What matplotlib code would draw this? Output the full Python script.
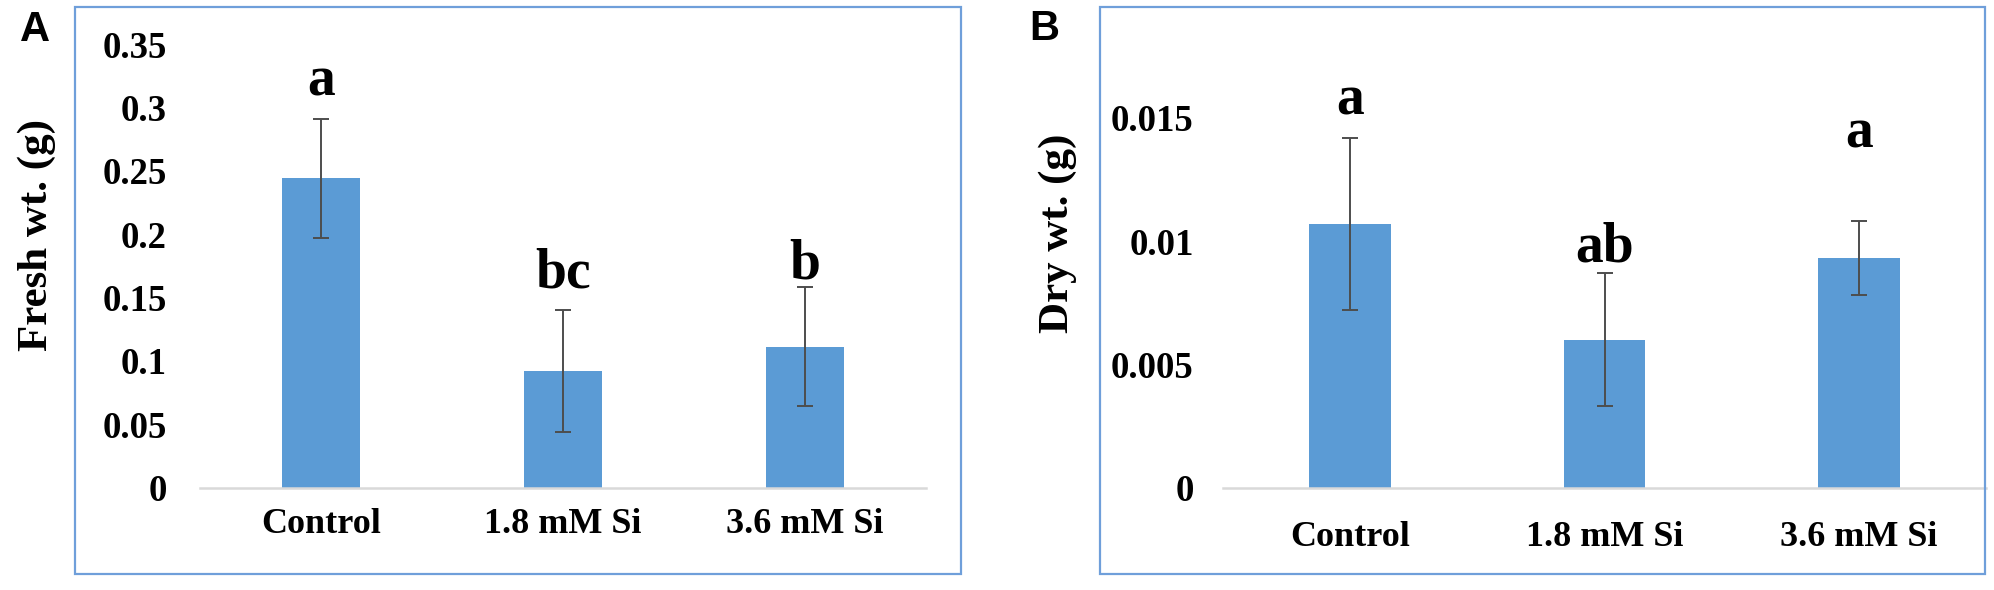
import matplotlib
matplotlib.use("Agg")
import matplotlib.pyplot as plt
from matplotlib.patches import Rectangle
import numpy as np

# data
treatments = ["Control", "1.8 mM Si", "3.6 mM Si"]

fresh_wt = [0.244, 0.092, 0.111]
fresh_err = [0.047, 0.048, 0.047]
fresh_letters = ["a", "bc", "b"]

dry_wt = [0.0107, 0.0060, 0.0093]
dry_err = [0.0035, 0.0027, 0.0015]
dry_letters = ["a", "ab", "a"]

fresh_ticks = [0, 0.05, 0.1, 0.15, 0.2, 0.25, 0.3, 0.35]
fresh_ticklabels = ["0", "0.05", "0.1", "0.15", "0.2", "0.25", "0.3", "0.35"]
dry_ticks = [0, 0.005, 0.01, 0.015]
dry_ticklabels = ["0", "0.005", "0.01", "0.015"]

BAR = "#5B9BD5"
FRAME = "#6F9FDA"
SERIF = ["Liberation Serif", "DejaVu Serif"]

W, H = 1994, 590
fig = plt.figure(figsize=(W / 100, H / 100), dpi=100)


def px_box(x0, x1, ytop, ybot):
    return [x0 / W, 1 - ybot / H, (x1 - x0) / W, (ybot - ytop) / H]


def panel(box, vals, errs, letters, letter_pad, ticks, ticklabels, ymax, ylabel,
          xlabel_pad, ytick_pad):
    ax = fig.add_axes(box)
    x = np.arange(len(treatments))
    ax.bar(x, vals, width=0.32, color=BAR, zorder=2)
    ax.errorbar(x, vals, yerr=errs, fmt="none", ecolor="#4d4d4d",
                elinewidth=1.4, capsize=5.5, capthick=1.4, zorder=3)
    for xi, v, e, lab, pad in zip(x, vals, errs, letters, letter_pad):
        ax.annotate(lab, (xi, v + e), xytext=(0, pad), textcoords="offset points",
                    ha="center", va="baseline", fontsize=40, fontweight="bold",
                    family=SERIF)
    ax.set_xlim(-0.5, len(treatments) - 0.5)
    ax.set_ylim(0, ymax)
    ax.set_yticks(ticks)
    ax.set_yticklabels(ticklabels, family=SERIF, fontweight="bold", fontsize=26.5)
    ax.set_xticks(x)
    ax.set_xticklabels(treatments, family=SERIF, fontweight="bold", fontsize=26)
    ax.tick_params(axis="y", length=0, pad=ytick_pad)
    ax.tick_params(axis="x", length=0, pad=xlabel_pad)
    for s in ["top", "right", "left"]:
        ax.spines[s].set_visible(False)
    ax.spines["bottom"].set_color("#d9d9d9")
    ax.spines["bottom"].set_linewidth(1.8)
    ax.patch.set_alpha(0)
    return ax


# panel A
ax1 = panel(px_box(200, 926, 44, 487.5), fresh_wt, fresh_err, fresh_letters,
            [16.5, 16.5, 6.5], fresh_ticks, fresh_ticklabels, 0.35, "Fresh wt. (g)",
            15, 24)
# panel B
ax2 = panel(px_box(1223, 1986, 44, 487.5), dry_wt, dry_err, dry_letters,
            [16.5, 8.6, 53], dry_ticks, dry_ticklabels, 0.018, "Dry wt. (g)",
            24, 21)

# outer frames
for x0, x1 in [(75, 961), (1100, 1985)]:
    fig.patches.append(Rectangle((x0 / W, 1 - 574 / H), (x1 - x0) / W, 567 / H,
                                 transform=fig.transFigure, fill=False,
                                 edgecolor=FRAME, linewidth=1.6))

# y labels
fig.text(37 / W, 1 - 235 / H, "Fresh wt. (g)", rotation=90, ha="center", va="center",
         fontsize=31, fontweight="bold", family=SERIF)
fig.text(1058 / W, 1 - 233 / H, "Dry wt. (g)", rotation=90, ha="center", va="center",
         fontsize=31, fontweight="bold", family=SERIF)

# panel letters
fig.text(35 / W, 1 - 30 / H, "A", ha="center", va="center", fontsize=30,
         fontweight="bold", family=["Liberation Sans", "DejaVu Sans"])
fig.text(1044 / W, 1 - 29 / H, "B", ha="center", va="center", fontsize=30,
         fontweight="bold", family=["Liberation Sans", "DejaVu Sans"])

fig.savefig("out.png", dpi=100, facecolor="white")
